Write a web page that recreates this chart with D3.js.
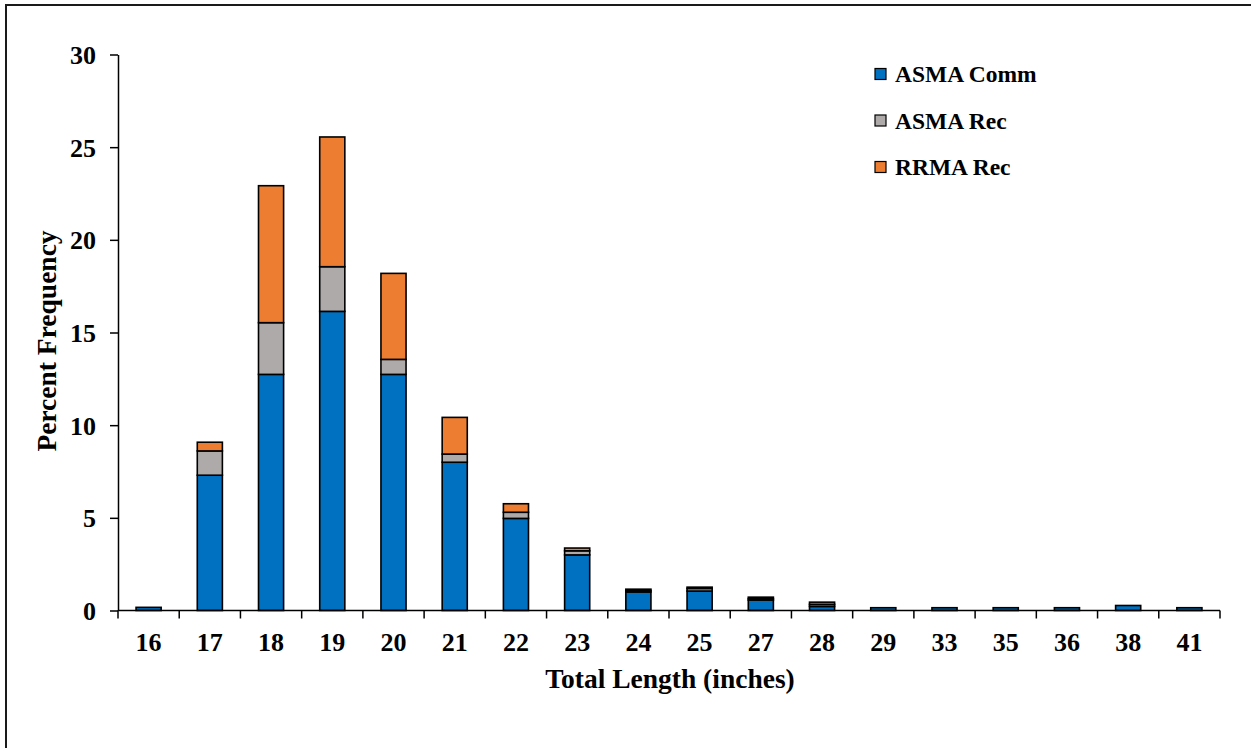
<!DOCTYPE html>
<html>
<head>
<meta charset="utf-8">
<script src="https://cdn.jsdelivr.net/npm/d3@7"></script>
<style>
  body { margin: 0; background: #fff; }
  svg { display: block; }
  text { font-family: "Liberation Serif", "Times New Roman", serif; font-weight: bold; fill: #000; }
</style>
</head>
<body>
<svg width="1251" height="748"></svg>
<script>
// lengths (inches) on the x axis
const lengths = ["16", "17", "18", "19", "20", "21", "22", "23", "24", "25", "27", "28", "29", "33", "35", "36", "38", "41"]
// percent frequency by series
const asmaComm = [0.17, 7.3, 12.74, 16.14, 12.74, 8.0, 4.97, 3.0, 1.0, 1.05, 0.56, 0.22, 0.15, 0.15, 0.15, 0.15, 0.27, 0.15]
const asmaRec  = [0, 1.31, 2.79, 2.41, 0.81, 0.44, 0.33, 0.22, 0.08, 0.14, 0.08, 0.11, 0, 0, 0, 0, 0, 0]
const rrmaRec  = [0, 0.47, 7.39, 7.0, 4.64, 1.98, 0.46, 0.15, 0.07, 0.07, 0.08, 0.12, 0, 0, 0, 0, 0, 0]
const seriesNames = ["ASMA Comm", "ASMA Rec", "RRMA Rec"]
const yTicks = [0, 5, 10, 15, 20, 25, 30]

const colors = ["#0070C0", "#AEAAAA", "#ED7D31"]

var margin = { top: 54.5, right: 31, bottom: 137.5, left: 118 }
var width = 1251, height = 748

var svg = d3.select("svg")

// outer frame (runs off the right and bottom edges)
svg.append("rect")
    .attr("x", 6).attr("y", 5)
    .attr("width", 1260).attr("height", 760)
    .attr("fill", "none")
    .attr("stroke", "#1a1a1a")
    .attr("stroke-width", 2)

let data = lengths.map((l, i) => ({ len: l, "ASMA Comm": asmaComm[i], "ASMA Rec": asmaRec[i], "RRMA Rec": rrmaRec[i] }))
let stacked = d3.stack().keys(seriesNames)(data)

x = d3.scaleBand()
    .domain(lengths)
    .range([margin.left, width - margin.right])
    .paddingInner(0.59)
    .paddingOuter(0.295)

y = d3.scaleLinear()
    .domain([0, 30])
    .range([height - margin.bottom, margin.top])

color = d3.scaleOrdinal().domain(seriesNames).range(colors)

// bars
svg.append("g")
  .selectAll("g")
  .data(stacked)
  .join("g")
    .attr("fill", d => color(d.key))
  .selectAll("rect")
  .data(d => d.filter(s => s[1] - s[0] > 0))
  .join("rect")
    .attr("x", d => x(d.data.len))
    .attr("y", d => y(d[1]))
    .attr("width", x.bandwidth())
    .attr("height", d => y(d[0]) - y(d[1]))
    .attr("stroke", "#000")
    .attr("stroke-width", 1.6)

// y axis
svg.append("g")
    .attr("transform", `translate(${margin.left},0)`)
    .call(d3.axisLeft(y).tickValues(yTicks).tickSize(8).tickPadding(14).tickSizeOuter(0))
    .call(g => g.selectAll("path, line").attr("stroke", "#000").attr("stroke-width", 1.5))
    .call(g => g.selectAll("text")
        .attr("font-size", 26)
        .attr("font-family", "Liberation Serif")
        .attr("font-weight", "bold")
        .attr("dy", "0.34em"))

// x axis: line, ticks between categories, labels centred
let x0 = y(0)
let gx = svg.append("g")
gx.append("line")
    .attr("x1", x.range()[0]).attr("x2", x.range()[1])
    .attr("y1", x0).attr("y2", x0)
    .attr("stroke", "#000").attr("stroke-width", 1.5)
gx.selectAll(".tk")
  .data(d3.range(lengths.length + 1))
  .join("line")
    .attr("class", "tk")
    .attr("x1", i => x.range()[0] + i * x.step())
    .attr("x2", i => x.range()[0] + i * x.step())
    .attr("y1", x0).attr("y2", x0 + 8)
    .attr("stroke", "#000").attr("stroke-width", 1.5)
gx.selectAll(".lb")
  .data(lengths)
  .join("text")
    .attr("class", "lb")
    .attr("x", d => x(d) + x.bandwidth() / 2)
    .attr("y", x0 + 40)
    .attr("text-anchor", "middle")
    .attr("font-size", 26)
    .text(d => d)

// axis titles
svg.append("text")
    .attr("x", 670).attr("y", 688)
    .attr("text-anchor", "middle")
    .attr("font-size", 27.5)
    .text("Total Length (inches)")

svg.append("text")
    .attr("transform", "translate(56,341) rotate(-90)")
    .attr("text-anchor", "middle")
    .attr("font-size", 27.5)
    .text("Percent Frequency")

// legend
let legend = svg.append("g")
  .selectAll("g")
  .data(seriesNames)
  .join("g")
    .attr("transform", (d, i) => `translate(875,${74 + i * 46.5})`)

legend.append("rect")
    .attr("x", 0).attr("y", -5.5)
    .attr("width", 11).attr("height", 11)
    .attr("fill", d => color(d))
    .attr("stroke", "#000").attr("stroke-width", 1.2)

legend.append("text")
    .attr("x", 20)
    .attr("y", 0)
    .attr("dy", "0.35em")
    .attr("font-size", 23.5)
    .text(d => d)
</script>
</body>
</html>
